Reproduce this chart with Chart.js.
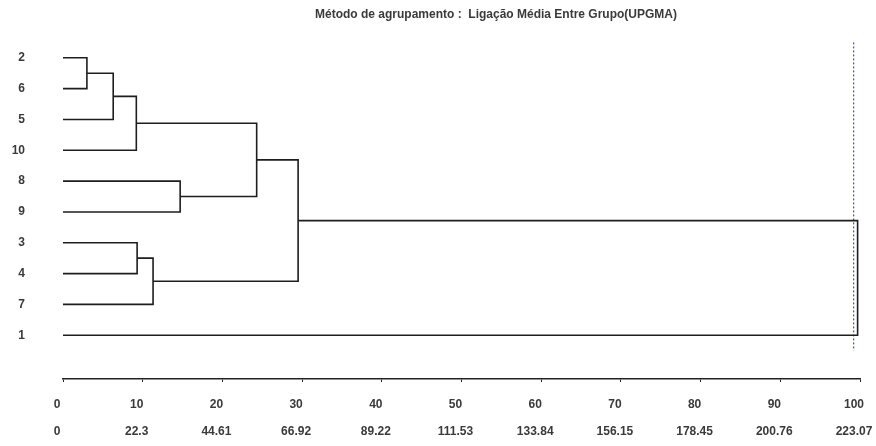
<!DOCTYPE html>
<html>
<head>
<meta charset="utf-8">
<script src="https://cdn.jsdelivr.net/npm/chart.js@4/dist/chart.umd.min.js"></script>
<style>
  html, body { margin: 0; padding: 0; background: #fff; }
  #wrap { width: 876px; height: 446px; }
</style>
</head>
<body>
<div id="wrap"><canvas id="dendro"></canvas></div>
<script>
// Rótulos das folhas (de cima para baixo)
const leafLabels = ['2', '6', '5', '10', '8', '9', '3', '4', '7', '1'];

// Agrupamentos: [nóA, nóB, distância em %]; folhas 0..9, nós novos 10, 11, ...
const merges = [
  [0, 1, 3.0],
  [10, 2, 6.3],
  [11, 3, 9.2],
  [4, 5, 14.7],
  [12, 13, 24.3],
  [6, 7, 9.3],
  [15, 8, 11.3],
  [14, 16, 29.5],
  [17, 9, 99.7]
];

// Linha de corte (pontilhada)
const cutValue = 99.2;

// Rótulos do eixo: % e distância
const pctTicks = [0, 10, 20, 30, 40, 50, 60, 70, 80, 90, 100];
const distTicks = ['0', '22.3', '44.61', '66.92', '89.22', '111.53', '133.84', '156.15', '178.45', '200.76', '223.07'];

const FONT = '"Liberation Sans", Arial, sans-serif';
const LINE = '#1e1e1e';

// Monta os "cotovelos" do dendrograma a partir dos agrupamentos
const nodeX = leafLabels.map(() => 0);
const nodeY = leafLabels.map((_, i) => i);
const datasets = [];
merges.forEach(([a, b, h]) => {
  datasets.push({
    data: [
      { x: nodeX[a], y: nodeY[a] },
      { x: h, y: nodeY[a] },
      { x: h, y: nodeY[b] },
      { x: nodeX[b], y: nodeY[b] }
    ],
    borderColor: LINE,
    borderWidth: 1.6
  });
  nodeX.push(h);
  nodeY.push((nodeY[a] + nodeY[b]) / 2);
});

datasets.push({
  data: [{ x: cutValue, y: -0.5 }, { x: cutValue, y: leafLabels.length - 0.5 }],
  borderColor: '#5656cc',
  borderWidth: 1.3,
  borderDash: [2, 2]
});

// Título desenhado à mão (fica deslocado para a direita)
const titlePlugin = {
  id: 'titulo',
  afterDraw(chart) {
    const ctx = chart.ctx;
    ctx.save();
    ctx.font = 'bold 12px ' + FONT;
    ctx.fillStyle = '#3a3a3a';
    ctx.textAlign = 'center';
    ctx.textBaseline = 'middle';
    ctx.fillText('Método de agrupamento :  Ligação Média Entre Grupo(UPGMA)', 496, 15);
    ctx.restore();
  }
};

new Chart(document.getElementById('dendro').getContext('2d'), {
  type: 'scatter',
  data: { datasets },
  options: {
    responsive: true,
    maintainAspectRatio: false,
    animation: false,
    showLine: true,
    elements: { point: { radius: 0, hoverRadius: 0 }, line: { tension: 0 } },
    layout: { padding: { top: 27, right: 16, left: 0, bottom: 0 } },
    plugins: {
      legend: { display: false },
      tooltip: { enabled: false },
      title: { display: false }
    },
    scales: {
      x: {
        type: 'linear',
        min: 0,
        max: 100,
        afterBuildTicks: s => { s.ticks = pctTicks.map(v => ({ value: v })); },
        afterFit: s => { s.height = 67; s.paddingLeft = 0; s.paddingRight = 0; },
        grid: { display: true, drawOnChartArea: false, drawTicks: true, tickLength: 3, color: '#222' },
        border: { display: true, color: '#222', width: 1.6 },
        ticks: {
          autoSkip: false,
          maxRotation: 0,
          padding: 9,
          labelOffset: -6,
          color: '#3a3a3a',
          font: { family: FONT, size: 12, weight: 'bold', lineHeight: 2.25 },
          callback: (v, i) => [String(pctTicks[i]), distTicks[i]]
        }
      },
      y: {
        type: 'linear',
        reverse: true,
        min: -1,
        max: 10.42,
        afterBuildTicks: s => { s.ticks = leafLabels.map((_, i) => ({ value: i })); },
        afterFit: s => { s.width = 63; s.paddingTop = 0; s.paddingBottom = 0; },
        grid: { display: false, drawTicks: false },
        border: { display: false },
        ticks: {
          autoSkip: false,
          padding: 38,
          color: '#3a3a3a',
          font: { family: FONT, size: 12, weight: 'bold' },
          callback: (v, i) => leafLabels[i]
        }
      }
    }
  },
  plugins: [titlePlugin]
});
</script>
</body>
</html>
